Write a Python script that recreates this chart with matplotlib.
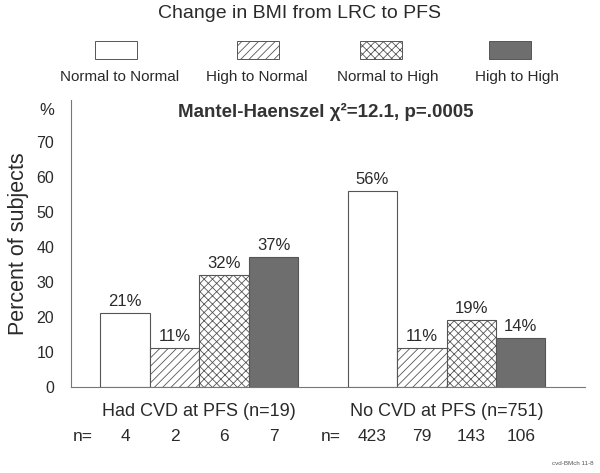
import matplotlib
matplotlib.use("Agg")
import matplotlib.pyplot as plt
import numpy as np
from matplotlib.patches import Rectangle

plt.rcParams['font.family'] = ['Liberation Sans', 'DejaVu Sans']
plt.rcParams['hatch.linewidth'] = 0.6

# data
groups = ['Had CVD at PFS (n=19)', 'No CVD at PFS (n=751)']
categories = ['Normal to Normal', 'High to Normal', 'Normal to High', 'High to High']
had_cvd_pct = [21, 11, 32, 37]
no_cvd_pct = [56, 11, 19, 14]
had_cvd_n = [4, 2, 6, 7]
no_cvd_n = [423, 79, 143, 106]

# bar styles, one per category
face_colors = ['white', 'white', 'white', '#6e6e6e']
hatches = [None, '////', 'xxxx', None]
edge = '#555555'

fig = plt.figure(figsize=(6, 4.73), dpi=100)
ax = fig.add_axes([0.118, 0.182, 0.857, 0.607])

text_col = '#2a2a2a'
for g, (pcts, ns) in enumerate([(had_cvd_pct, had_cvd_n), (no_cvd_pct, no_cvd_n)]):
    x = g * 5 + np.arange(len(categories))
    for i in range(len(categories)):
        ax.bar(x[i], pcts[i], width=1.0, color=face_colors[i], edgecolor=edge,
               hatch=hatches[i], linewidth=0.8)
        ax.text(x[i], pcts[i] + 1.2, f'{pcts[i]}%', ha='center', va='bottom',
                fontsize=12, color=text_col)
        ax.text(x[i], -14.2, str(ns[i]), ha='center', va='center', fontsize=12.5,
                color=text_col)
    ax.text(x[0] - 0.85, -14.2, 'n=', ha='center', va='center', fontsize=12.5,
            color=text_col)
    ax.text(x.mean(), -7.0, groups[g], ha='center', va='center', fontsize=13,
            color=text_col)

ax.set_xlim(-1.1, 9.3)
ax.set_ylim(0, 82)
ax.set_yticks(range(0, 80, 10))
ax.tick_params(axis='y', length=0, pad=12, labelsize=11.5, labelcolor=text_col)
ax.set_xticks([])
for s in ['top', 'right']:
    ax.spines[s].set_visible(False)
for s in ['left', 'bottom']:
    ax.spines[s].set_color('#777777')
    ax.spines[s].set_linewidth(0.8)
ax.text(-1.58, 79, '%', ha='center', va='center', fontsize=12, color=text_col)
ax.set_ylabel('Percent of subjects', fontsize=15.5, color=text_col, labelpad=5)

ax.text(4.05, 78.5, 'Mantel-Haenszel χ²=12.1, p=.0005', ha='center', va='center',
        fontsize=13.5, fontweight='bold', color='#333333')

# legend above the plot
fig.text(0.5, 0.972, 'Change in BMI from LRC to PFS', ha='center', va='center',
         fontsize=14, color=text_col)
legend_x = [0.193, 0.43, 0.635, 0.85]
label_x = [0.2, 0.428, 0.647, 0.862]
for i in range(len(categories)):
    r = Rectangle((legend_x[i] - 0.0345, 0.875), 0.069, 0.038, transform=fig.transFigure,
                  facecolor=face_colors[i], edgecolor=edge, hatch=hatches[i],
                  linewidth=0.7)
    fig.add_artist(r)
    fig.text(label_x[i], 0.837, categories[i], ha='center', va='center',
             fontsize=11, color=text_col)

fig.text(0.99, 0.02, 'cvd-BMch 11-8', ha='right', va='center', fontsize=4.5,
         color='#555555')

fig.savefig('out.png', dpi=100)
